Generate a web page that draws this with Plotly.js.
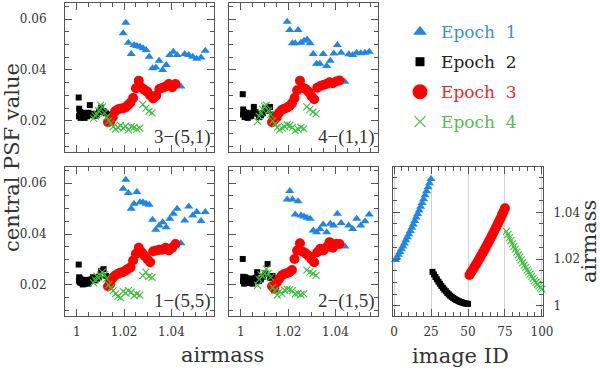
<!DOCTYPE html>
<html>
<head>
<meta charset="utf-8">
<script src="https://cdn.plot.ly/plotly-3.0.1.min.js"></script>
<style>
  body { margin: 0; background: #fff; }
</style>
</head>
<body>
<div id="chart" style="width:600px;height:370px"></div>
<script>
// airmass of each image, per epoch (same for every panel)
const airmass1 = [1.0196, 1.0207, 1.0218, 1.0230, 1.0242, 1.0254, 1.0267, 1.0280, 1.0293, 1.0306, 1.0320, 1.0334, 1.0348, 1.0363, 1.0378, 1.0393, 1.0408, 1.0424, 1.0440, 1.0456, 1.0473, 1.0490, 1.0507, 1.0525, 1.0543];
const airmass2 = [1.0145, 1.0134, 1.0123, 1.0113, 1.0103, 1.0094, 1.0085, 1.0077, 1.0069, 1.0062, 1.0055, 1.0049, 1.0043, 1.0038, 1.0033, 1.0029, 1.0025, 1.0022, 1.0019, 1.0016, 1.0014, 1.0012, 1.0010, 1.0009, 1.0008];
const airmass3 = [1.0132, 1.0142, 1.0152, 1.0162, 1.0173, 1.0183, 1.0194, 1.0205, 1.0216, 1.0227, 1.0238, 1.0250, 1.0262, 1.0274, 1.0286, 1.0298, 1.0310, 1.0323, 1.0336, 1.0349, 1.0362, 1.0375, 1.0389, 1.0403, 1.0417];
const airmass4 = [1.0318, 1.0305, 1.0292, 1.0279, 1.0266, 1.0254, 1.0242, 1.0230, 1.0218, 1.0207, 1.0196, 1.0185, 1.0174, 1.0164, 1.0154, 1.0144, 1.0135, 1.0126, 1.0117, 1.0108, 1.0100, 1.0092, 1.0085, 1.0078, 1.0071];

// image IDs
const imageId1 = [1, 2, 3, 4, 5, 6, 7, 8, 9, 10, 11, 12, 13, 14, 15, 16, 17, 18, 19, 20, 21, 22, 23, 24, 25];
const imageId2 = [26, 27, 28, 29, 30, 31, 32, 33, 34, 35, 36, 37, 38, 39, 40, 41, 42, 43, 44, 45, 46, 47, 48, 49, 50];
const imageId3 = [51, 52, 53, 54, 55, 56, 57, 58, 59, 60, 61, 62, 63, 64, 65, 66, 67, 68, 69, 70, 71, 72, 73, 74, 75];
const imageId4 = [76, 77, 78, 79, 80, 81, 82, 83, 84, 85, 86, 87, 88, 89, 90, 91, 92, 93, 94, 95, 96, 97, 98, 99, 100];

// central PSF value, panel 3-(5,1)
const psf51e1 = [0.0544, 0.0585, 0.0507, 0.0463, 0.0498, 0.0494, 0.0491, 0.0485, 0.0478, 0.0452, 0.0407, 0.0410, 0.0436, 0.0400, 0.0420, 0.0459, 0.0472, 0.0459, 0.0335, 0.0463, 0.0459, 0.0452, 0.0444, 0.0449, 0.0476];
const psf51e2 = [0.0215, 0.0225, 0.0230, 0.0238, 0.0252, 0.0235, 0.0225, 0.0220, 0.0228, 0.0222, 0.0262, 0.0232, 0.0218, 0.0225, 0.0212, 0.0220, 0.0232, 0.0215, 0.0225, 0.0212, 0.0235, 0.0222, 0.0248, 0.0218, 0.0292];
const psf51e3 = [0.0195, 0.0200, 0.0215, 0.0238, 0.0245, 0.0248, 0.0250, 0.0253, 0.0262, 0.0272, 0.0290, 0.0328, 0.0358, 0.0330, 0.0322, 0.0315, 0.0300, 0.0288, 0.0300, 0.0325, 0.0330, 0.0335, 0.0345, 0.0332, 0.0345];
const psf51e4 = [0.0232, 0.0238, 0.0250, 0.0265, 0.0172, 0.0168, 0.0175, 0.0178, 0.0165, 0.0180, 0.0172, 0.0182, 0.0175, 0.0168, 0.0178, 0.0190, 0.0200, 0.0215, 0.0232, 0.0255, 0.0262, 0.0240, 0.0228, 0.0220, 0.0210];

// panel 4-(1,1)
const psf11e1 = [0.0589, 0.0557, 0.0505, 0.0505, 0.0557, 0.0507, 0.0515, 0.0520, 0.0505, 0.0463, 0.0424, 0.0424, 0.0463, 0.0416, 0.0436, 0.0465, 0.0498, 0.0468, 0.0354, 0.0462, 0.0459, 0.0468, 0.0466, 0.0468, 0.0472];
const psf11e2 = [0.0218, 0.0225, 0.0255, 0.0240, 0.0250, 0.0230, 0.0222, 0.0215, 0.0228, 0.0235, 0.0255, 0.0232, 0.0220, 0.0218, 0.0228, 0.0212, 0.0225, 0.0232, 0.0220, 0.0215, 0.0235, 0.0228, 0.0245, 0.0225, 0.0305];
const psf11e3 = [0.0195, 0.0205, 0.0215, 0.0232, 0.0243, 0.0248, 0.0252, 0.0258, 0.0269, 0.0290, 0.0320, 0.0358, 0.0330, 0.0325, 0.0315, 0.0298, 0.0285, 0.0330, 0.0337, 0.0341, 0.0345, 0.0352, 0.0348, 0.0355, 0.0359];
const psf11e4 = [0.0228, 0.0235, 0.0245, 0.0255, 0.0170, 0.0175, 0.0168, 0.0162, 0.0175, 0.0182, 0.0185, 0.0178, 0.0172, 0.0165, 0.0175, 0.0188, 0.0200, 0.0225, 0.0240, 0.0262, 0.0258, 0.0245, 0.0232, 0.0218, 0.0198];

// panel 1-(5,5)
const psf55e1 = [0.0578, 0.0613, 0.0561, 0.0499, 0.0519, 0.0565, 0.0525, 0.0525, 0.0519, 0.0515, 0.0456, 0.0417, 0.0433, 0.0446, 0.0427, 0.0460, 0.0480, 0.0499, 0.0364, 0.0453, 0.0508, 0.0473, 0.0486, 0.0451, 0.0486];
const psf55e2 = [0.0215, 0.0222, 0.0235, 0.0262, 0.0255, 0.0232, 0.0225, 0.0218, 0.0230, 0.0222, 0.0215, 0.0205, 0.0212, 0.0220, 0.0205, 0.0210, 0.0202, 0.0215, 0.0220, 0.0208, 0.0225, 0.0212, 0.0230, 0.0218, 0.0280];
const psf55e3 = [0.0195, 0.0205, 0.0228, 0.0237, 0.0243, 0.0248, 0.0250, 0.0256, 0.0263, 0.0269, 0.0296, 0.0322, 0.0346, 0.0328, 0.0315, 0.0302, 0.0289, 0.0332, 0.0335, 0.0338, 0.0338, 0.0346, 0.0335, 0.0346, 0.0361];
const psf55e4 = [0.0230, 0.0234, 0.0250, 0.0237, 0.0160, 0.0165, 0.0158, 0.0172, 0.0178, 0.0168, 0.0175, 0.0150, 0.0155, 0.0165, 0.0178, 0.0188, 0.0200, 0.0225, 0.0240, 0.0250, 0.0238, 0.0228, 0.0235, 0.0220, 0.0208];

// panel 2-(1,5)
const psf15e1 = [0.0535, 0.0569, 0.0535, 0.0477, 0.0529, 0.0473, 0.0469, 0.0464, 0.0460, 0.0414, 0.0407, 0.0420, 0.0437, 0.0407, 0.0440, 0.0433, 0.0480, 0.0443, 0.0351, 0.0433, 0.0420, 0.0460, 0.0433, 0.0450, 0.0477];
const psf15e2 = [0.0220, 0.0235, 0.0228, 0.0282, 0.0245, 0.0232, 0.0222, 0.0215, 0.0250, 0.0228, 0.0222, 0.0205, 0.0215, 0.0225, 0.0208, 0.0218, 0.0225, 0.0212, 0.0230, 0.0218, 0.0205, 0.0225, 0.0232, 0.0215, 0.0302];
const psf15e3 = [0.0195, 0.0185, 0.0210, 0.0224, 0.0237, 0.0243, 0.0246, 0.0250, 0.0259, 0.0302, 0.0335, 0.0364, 0.0330, 0.0324, 0.0315, 0.0302, 0.0289, 0.0328, 0.0342, 0.0335, 0.0348, 0.0368, 0.0346, 0.0361, 0.0361];
const psf15e4 = [0.0238, 0.0245, 0.0250, 0.0258, 0.0165, 0.0162, 0.0168, 0.0165, 0.0178, 0.0182, 0.0184, 0.0180, 0.0165, 0.0175, 0.0160, 0.0178, 0.0190, 0.0230, 0.0245, 0.0262, 0.0245, 0.0235, 0.0240, 0.0222, 0.0198];

const epochNames = ['Epoch\u00a0\u00a01', 'Epoch\u00a0\u00a02', 'Epoch\u00a0\u00a03', 'Epoch\u00a0\u00a04'];
const panelLabels = ['3\u2212(5,1)', '4\u2212(1,1)', '1\u2212(5,5)', '2\u2212(1,5)'];

// *** styles ***
const colors = ['#1e86e6', '#000000', '#ff0000', '#3cbc3c'];
const textColors = ['#3a8fe0', '#222222', '#e52a2a', '#55bb55'];
const symbols = ['triangle-up', 'square', 'circle', 'x-thin-open'];
const sizes = [8, 6, 10, 7];
const legendSizes = [12, 9, 15, 11];

const serif = 'DejaVu Serif, serif';
const ink = '#333';
const frame = '#555';

const airmass = [airmass1, airmass2, airmass3, airmass4];
const imageIds = [imageId1, imageId2, imageId3, imageId4];

const panels = [
  { label: panelLabels[0], psf: [psf51e1, psf51e2, psf51e3, psf51e4] },
  { label: panelLabels[1], psf: [psf11e1, psf11e2, psf11e3, psf11e4] },
  { label: panelLabels[2], psf: [psf55e1, psf55e2, psf55e3, psf55e4] },
  { label: panelLabels[3], psf: [psf15e1, psf15e2, psf15e3, psf15e4] },
];

function markerTrace(x, y, e, xa, ya, size) {
  const isCross = symbols[e].startsWith('x');
  return {
    x, y,
    xaxis: xa,
    yaxis: ya,
    type: 'scatter',
    mode: 'markers',
    cliponaxis: false,
    hoverinfo: 'skip',
    showlegend: false,
    marker: {
      symbol: symbols[e],
      size: size,
      color: colors[e],
      line: isCross ? { color: colors[e], width: 1.1 } : { width: 0 },
    },
  };
}

const data = [];

// 4 scatter panels
panels.forEach((p, i) => {
  const n = i === 0 ? '' : i + 1;
  for (let e = 0; e < 4; e++) {
    data.push(markerTrace(airmass[e], p.psf[e], e, 'x' + n, 'y' + n, sizes[e]));
  }
});

// airmass vs image ID
for (let e = 0; e < 4; e++) {
  data.push(markerTrace(imageIds[e], airmass[e], e, 'x5', 'y5', sizes[e]));
}

// legend symbols (row index on hidden axis)
for (let e = 0; e < 4; e++) {
  data.push(markerTrace([0], [e], e, 'x6', 'y6', legendSizes[e]));
}

// *** axes ***
const colX = [[0.1083, 0.3567], [0.3817, 0.63]];
const rowY = [[0.5892, 0.9919], [0.1459, 0.5486]];

const baseAxis = {
  showline: true,
  linecolor: frame,
  linewidth: 1,
  mirror: 'allticks',
  ticks: 'inside',
  ticklen: 7,
  tickcolor: frame,
  tickwidth: 1,
  showgrid: false,
  zeroline: false,
  fixedrange: true,
  tickfont: { family: serif, size: 12, color: ink },
};

function airmassX(domain, anchor, labels) {
  return Object.assign({}, baseAxis, {
    domain, anchor,
    range: [0.995, 1.058],
    tick0: 1, dtick: 0.02,
    minor: { tick0: 1, dtick: 0.005, ticklen: 4, ticks: 'inside', tickcolor: frame },
    showticklabels: labels,
    ticklabelstandoff: 5,
  });
}

function psfY(domain, anchor, labels) {
  return Object.assign({}, baseAxis, {
    domain, anchor,
    range: [0.0078, 0.0663],
    tick0: 0, dtick: 0.02,
    minor: { tick0: 0, dtick: 0.005, ticklen: 4, ticks: 'inside', tickcolor: frame },
    showticklabels: labels,
    ticklabelstandoff: 15,
  });
}

const layout = {
  width: 600,
  height: 370,
  margin: { l: 0, r: 0, t: 0, b: 0 },
  paper_bgcolor: '#fff',
  plot_bgcolor: '#fff',
  showlegend: false,

  xaxis: airmassX(colX[0], 'y', false),
  yaxis: psfY(rowY[0], 'x', true),
  xaxis2: airmassX(colX[1], 'y2', false),
  yaxis2: psfY(rowY[0], 'x2', false),
  xaxis3: airmassX(colX[0], 'y3', true),
  yaxis3: psfY(rowY[1], 'x3', true),
  xaxis4: airmassX(colX[1], 'y4', true),
  yaxis4: psfY(rowY[1], 'x4', false),

  xaxis5: Object.assign({}, baseAxis, {
    domain: [0.655, 0.905], anchor: 'y5',
    range: [-0.7, 100.7],
    tick0: 0, dtick: 25,
    minor: { tick0: 0, dtick: 5, ticklen: 4, ticks: 'inside', tickcolor: frame },
    showgrid: true, gridcolor: '#d4d4d4', gridwidth: 1,
    ticklabelstandoff: 5,
  }),
  yaxis5: Object.assign({}, baseAxis, {
    domain: rowY[1], anchor: 'x5', side: 'right',
    range: [0.9956, 1.0594],
    tick0: 1, dtick: 0.02,
    minor: { tick0: 1, dtick: 0.005, ticklen: 4, ticks: 'inside', tickcolor: frame },
    ticklabelstandoff: 7,
  }),

  // hidden axes for the legend symbols
  xaxis6: { domain: [0.69, 0.71], anchor: 'y6', range: [-1, 1], visible: false, fixedrange: true },
  yaxis6: { domain: [1 - 121.7 / 370, 1 - 31.7 / 370], anchor: 'x6', range: [3, 0], visible: false, fixedrange: true },

  annotations: [],
};

const titleFont = { family: serif, size: 21, color: ink };

layout.annotations.push(
  { text: 'central PSF value', xref: 'paper', yref: 'paper', x: 12 / 600, y: 1 - 158 / 370,
    textangle: -90, showarrow: false, font: titleFont, xanchor: 'center', yanchor: 'middle' },
  { text: 'airmass', xref: 'paper', yref: 'paper', x: 222 / 600, y: 1 - 355 / 370,
    showarrow: false, font: titleFont, xanchor: 'center', yanchor: 'middle' },
  { text: 'image ID', xref: 'paper', yref: 'paper', x: 460 / 600, y: 1 - 356 / 370,
    showarrow: false, font: titleFont, xanchor: 'center', yanchor: 'middle' },
  { text: 'airmass', xref: 'paper', yref: 'paper', x: 589 / 600, y: 1 - 242 / 370,
    textangle: -90, showarrow: false, font: titleFont, xanchor: 'center', yanchor: 'middle' }
);

// panel labels
panels.forEach((p, i) => {
  const n = i === 0 ? '' : i + 1;
  layout.annotations.push({
    text: p.label, xref: 'x' + n + ' domain', yref: 'y' + n + ' domain',
    x: 0.99, y: 0.1, xanchor: 'right', yanchor: 'middle', showarrow: false,
    font: { family: 'Liberation Serif, serif', size: 19, color: ink },
  });
});

// legend texts
epochNames.forEach((name, e) => {
  layout.annotations.push({
    text: name, xref: 'paper', yref: 'y6',
    x: 439 / 600, y: e, xanchor: 'left', yanchor: 'middle', showarrow: false,
    font: { family: serif, size: 17, color: textColors[e] },
  });
});

const config = { staticPlot: true, displayModeBar: false };

Plotly.newPlot('chart', data, layout, config);
</script>
</body>
</html>
